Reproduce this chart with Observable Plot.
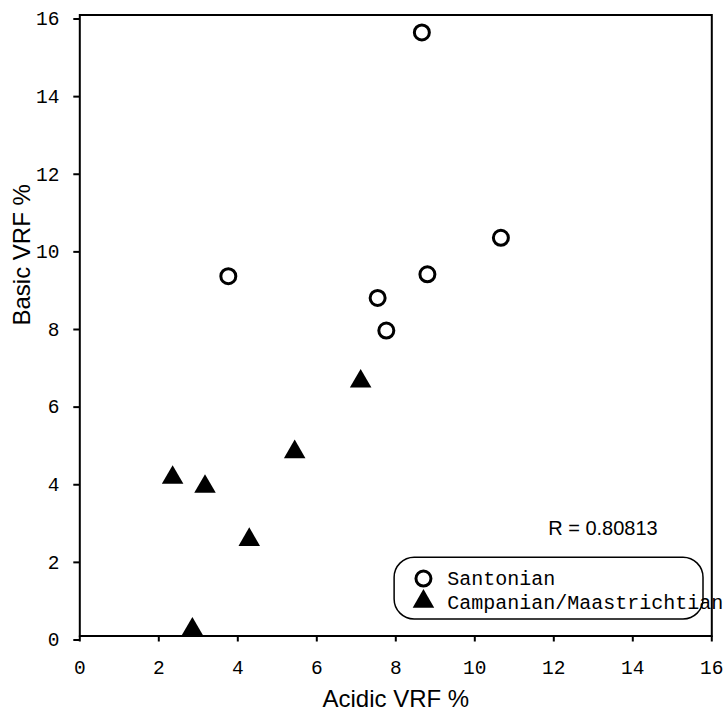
<!DOCTYPE html>
<html>
<head>
<meta charset="utf-8">
<script src="https://cdn.jsdelivr.net/npm/d3@7"></script>
<script src="https://cdn.jsdelivr.net/npm/@observablehq/plot@0.6"></script>
<style>
  html, body { margin: 0; padding: 0; background: white; }
  g[aria-label="x-axis tick label"], g[aria-label="y-axis tick label"] {
    font-family: 'Liberation Mono', 'Courier New', monospace;
    font-size: 19.5px;
  }
</style>
</head>
<body>
<div id="chart"></div>
<script>
const seriesNames = ["Santonian", "Campanian/Maastrichtian"];
const santonianX = [8.66, 3.76, 7.54, 8.80, 7.76, 10.66];
const santonianY = [15.55, 9.27, 8.71, 9.32, 7.87, 10.26];
const campanianX = [7.11, 5.44, 2.35, 3.17, 4.29, 2.85];
const campanianY = [6.56, 4.74, 4.08, 3.85, 2.48, 0.17];
const xTicks = [0, 2, 4, 6, 8, 10, 12, 14, 16];
const yTicks = [0, 2, 4, 6, 8, 10, 12, 14, 16];
const xLabel = "Acidic VRF %";
const yLabel = "Basic VRF %";
const rText = "R = 0.80813";

const santonian = santonianX.map((x, i) => ({x, y: santonianY[i]}));
const campanian = campanianX.map((x, i) => ({x, y: campanianY[i]}));

const mono = "'Liberation Mono', 'Courier New', monospace";
const sans = "'Liberation Sans', Arial, Helvetica, sans-serif";

// legend placement (data space)
const legX1 = 7.97, legX2 = 15.79, legY1 = 0.425, legY2 = 2.015;
const legSymX = 8.70, legTextX = 9.30;
const legCircleY = 1.48, legTriangleY = 0.89;
const legRows = [
  {name: seriesNames[0], yText: 1.48},
  {name: seriesNames[1], yText: 0.87}
];

const plot = Plot.plot({
  width: 728,
  height: 711,
  marginLeft: 79.3,
  marginRight: 16.7,
  marginTop: 14.5,
  marginBottom: 75.5,
  style: {background: "white", overflow: "visible"},
  x: {domain: [0, 16]},
  y: {domain: [0, 16]},
  marks: [
    Plot.axisX({ticks: xTicks, tickSize: 6, tickPadding: 18, tickFormat: d => String(d), fontFamily: mono, fontSize: 19.5, strokeWidth: 2, stroke: "black", fill: "black", label: null}),
    Plot.axisY({ticks: yTicks, tickSize: 6, tickPadding: 14.3, tickFormat: d => String(d), fontFamily: mono, fontSize: 19.5, strokeWidth: 2, stroke: "black", fill: "black", dy: 4, label: null}),
    Plot.text([xLabel], {text: d => d, frameAnchor: "bottom", dy: 71, fontFamily: sans, fontSize: 24, fill: "black"}),
    Plot.text([yLabel], {text: d => d, frameAnchor: "left", rotate: -90, dx: -57, fontFamily: sans, fontSize: 24, fill: "black"}),
    Plot.text([rText], {text: d => d, x: 14.63, y: 2.755, textAnchor: "end", fontFamily: sans, fontSize: 20, fill: "black"}),
    // legend
    Plot.rect([0], {x1: legX1, x2: legX2, y1: legY1, y2: legY2, rx: 20, fill: "white", stroke: "black", strokeWidth: 1.5}),
    Plot.dot([0], {x: legSymX, y: legCircleY, symbol: "circle", r: 7.5, fill: "white", stroke: "black", strokeWidth: 3}),
    Plot.dot([0], {x: legSymX, y: legTriangleY, symbol: "triangle", r: 8, fill: "black"}),
    Plot.text(legRows, {x: legTextX, y: "yText", text: "name", textAnchor: "start", fontFamily: mono, fontSize: 20, fill: "black"}),
    // data
    Plot.dot(campanian, {x: "x", y: "y", symbol: "triangle", r: 8, fill: "black"}),
    Plot.dot(santonian, {x: "x", y: "y", symbol: "circle", r: 7.5, fill: "white", stroke: "black", strokeWidth: 3}),
    Plot.frame({stroke: "black", strokeWidth: 2})
  ]
});
document.getElementById("chart").appendChild(plot);
</script>
</body>
</html>
